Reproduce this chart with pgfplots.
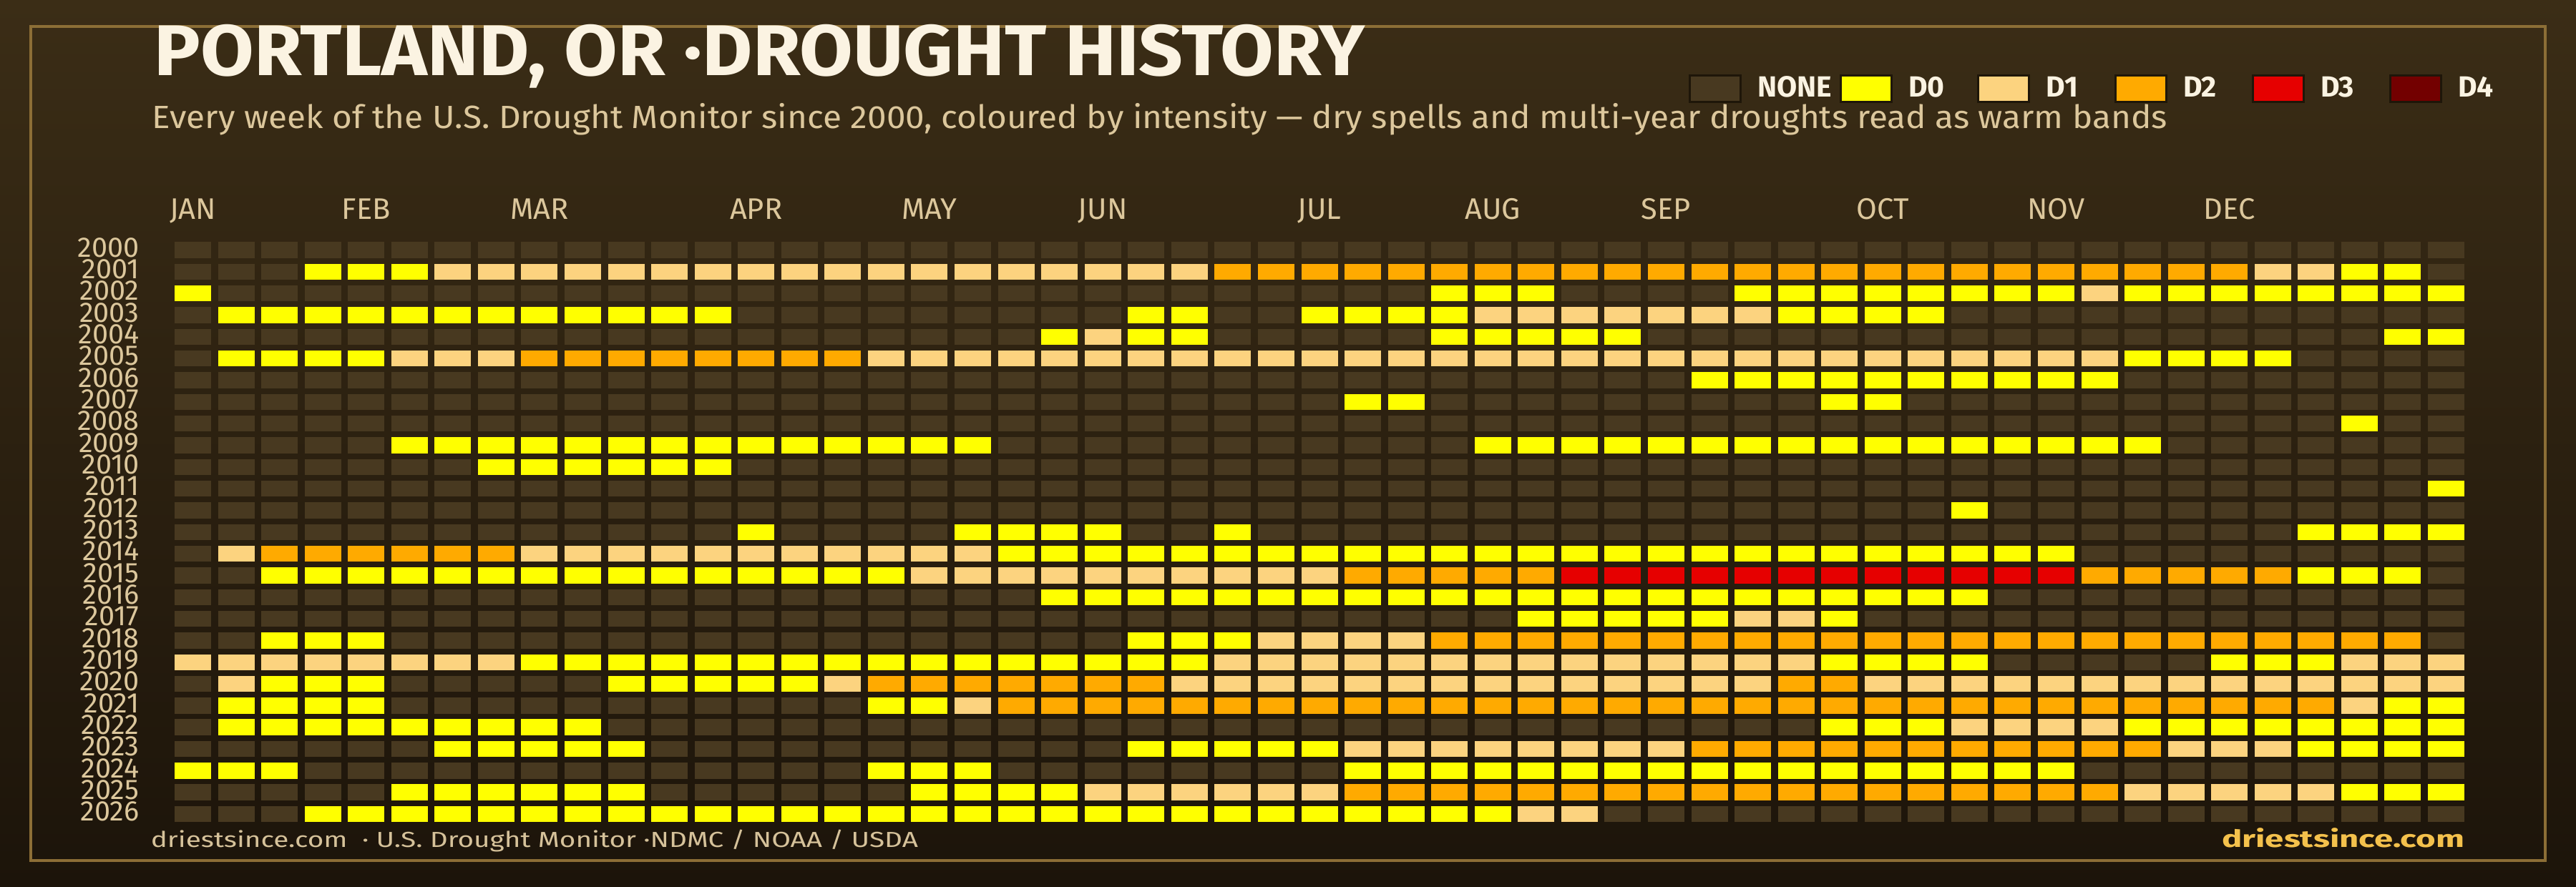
\documentclass[border=0pt]{standalone}
\usepackage{pgfplots}
\pgfplotsset{compat=1.18}
\usepackage{pgfplotstable}
\usepackage{graphicx}
\usepackage{fontspec}
\setmainfont{Fira Sans}
\definecolor{bgtop}{HTML}{3B2D16}
\definecolor{bgbot}{HTML}{1C140A}
\definecolor{framec}{HTML}{8C6E36}
\definecolor{cream}{HTML}{FBF3E2}
\definecolor{tanc}{HTML}{DCC79C}
\definecolor{footc}{HTML}{D6C29A}
\definecolor{gold}{HTML}{F4C14C}
\definecolor{legbd}{HTML}{1E1609}
\definecolor{cN}{HTML}{483920}
\definecolor{cD0}{HTML}{FFFF00}
\definecolor{cD1}{HTML}{FCD37F}
\definecolor{cD2}{HTML}{FFAA00}
\definecolor{cD3}{HTML}{E60000}
\definecolor{cD4}{HTML}{730000}

\pgfdeclareplotmark{cell}{\pgfpathrectangle{\pgfqpoint{-6.375pt}{-2.8125pt}}{\pgfqpoint{12.75pt}{5.625pt}}\pgfusepathqfill}

\pgfplotsset{
  cellplot/.style={forget plot, scatter, only marks, mark=cell, point meta=explicit symbolic,
    scatter/@pre marker code/.code={%
      \pgfscope
      \ifnum\pgfplotspointmeta<0 \pgfsetfillcolor{cN}%
      \else\ifcase\pgfplotspointmeta\relax \pgfsetfillcolor{cD0}\or\pgfsetfillcolor{cD1}\or\pgfsetfillcolor{cD2}\or\pgfsetfillcolor{cD3}\or\pgfsetfillcolor{cD4}\fi
      \fi},
    scatter/@post marker code/.code={\endpgfscope}},
  legsq/.style={legend image code/.code={\filldraw[draw=legbd, line width=0.75pt, fill=#1] (0.375pt,-1.875pt) rectangle (18.125pt,7.375pt);}},
}
\tikzset{month/.style={anchor=base, yshift=6.93pt, inner sep=0pt, text=tanc, font=\fontsize{10.4}{12}\selectfont}}

% drought level per week: -1 = none, 0..4 = D0..D4
\pgfplotstableread{
year w0 w1 w2 w3 w4 w5 w6 w7 w8 w9 w10 w11 w12 w13 w14 w15 w16 w17 w18 w19 w20 w21 w22 w23 w24 w25 w26 w27 w28 w29 w30 w31 w32 w33 w34 w35 w36 w37 w38 w39 w40 w41 w42 w43 w44 w45 w46 w47 w48 w49 w50 w51 w52
2000 -1 -1 -1 -1 -1 -1 -1 -1 -1 -1  -1 -1 -1 -1 -1 -1 -1 -1 -1 -1  -1 -1 -1 -1 -1 -1 -1 -1 -1 -1  -1 -1 -1 -1 -1 -1 -1 -1 -1 -1  -1 -1 -1 -1 -1 -1 -1 -1 -1 -1  -1 -1 -1
2001 -1 -1 -1 0 0 0 1 1 1 1  1 1 1 1 1 1 1 1 1 1  1 1 1 1 2 2 2 2 2 2  2 2 2 2 2 2 2 2 2 2  2 2 2 2 2 2 2 2 1 1  0 0 -1
2002 0 -1 -1 -1 -1 -1 -1 -1 -1 -1  -1 -1 -1 -1 -1 -1 -1 -1 -1 -1  -1 -1 -1 -1 -1 -1 -1 -1 -1 0  0 0 -1 -1 -1 -1 0 0 0 0  0 0 0 0 1 0 0 0 0 0  0 0 0
2003 -1 0 0 0 0 0 0 0 0 0  0 0 0 -1 -1 -1 -1 -1 -1 -1  -1 -1 0 0 -1 -1 0 0 0 0  1 1 1 1 1 1 1 0 0 0  0 -1 -1 -1 -1 -1 -1 -1 -1 -1  -1 -1 -1
2004 -1 -1 -1 -1 -1 -1 -1 -1 -1 -1  -1 -1 -1 -1 -1 -1 -1 -1 -1 -1  0 1 0 0 -1 -1 -1 -1 -1 0  0 0 0 0 -1 -1 -1 -1 -1 -1  -1 -1 -1 -1 -1 -1 -1 -1 -1 -1  -1 0 0
2005 -1 0 0 0 0 1 1 1 2 2  2 2 2 2 2 2 1 1 1 1  1 1 1 1 1 1 1 1 1 1  1 1 1 1 1 1 1 1 1 1  1 1 1 1 1 0 0 0 0 -1  -1 -1 -1
2006 -1 -1 -1 -1 -1 -1 -1 -1 -1 -1  -1 -1 -1 -1 -1 -1 -1 -1 -1 -1  -1 -1 -1 -1 -1 -1 -1 -1 -1 -1  -1 -1 -1 -1 -1 0 0 0 0 0  0 0 0 0 0 -1 -1 -1 -1 -1  -1 -1 -1
2007 -1 -1 -1 -1 -1 -1 -1 -1 -1 -1  -1 -1 -1 -1 -1 -1 -1 -1 -1 -1  -1 -1 -1 -1 -1 -1 -1 0 0 -1  -1 -1 -1 -1 -1 -1 -1 -1 0 0  -1 -1 -1 -1 -1 -1 -1 -1 -1 -1  -1 -1 -1
2008 -1 -1 -1 -1 -1 -1 -1 -1 -1 -1  -1 -1 -1 -1 -1 -1 -1 -1 -1 -1  -1 -1 -1 -1 -1 -1 -1 -1 -1 -1  -1 -1 -1 -1 -1 -1 -1 -1 -1 -1  -1 -1 -1 -1 -1 -1 -1 -1 -1 -1  0 -1 -1
2009 -1 -1 -1 -1 -1 0 0 0 0 0  0 0 0 0 0 0 0 0 0 -1  -1 -1 -1 -1 -1 -1 -1 -1 -1 -1  0 0 0 0 0 0 0 0 0 0  0 0 0 0 0 0 -1 -1 -1 -1  -1 -1 -1
2010 -1 -1 -1 -1 -1 -1 -1 0 0 0  0 0 0 -1 -1 -1 -1 -1 -1 -1  -1 -1 -1 -1 -1 -1 -1 -1 -1 -1  -1 -1 -1 -1 -1 -1 -1 -1 -1 -1  -1 -1 -1 -1 -1 -1 -1 -1 -1 -1  -1 -1 -1
2011 -1 -1 -1 -1 -1 -1 -1 -1 -1 -1  -1 -1 -1 -1 -1 -1 -1 -1 -1 -1  -1 -1 -1 -1 -1 -1 -1 -1 -1 -1  -1 -1 -1 -1 -1 -1 -1 -1 -1 -1  -1 -1 -1 -1 -1 -1 -1 -1 -1 -1  -1 -1 0
2012 -1 -1 -1 -1 -1 -1 -1 -1 -1 -1  -1 -1 -1 -1 -1 -1 -1 -1 -1 -1  -1 -1 -1 -1 -1 -1 -1 -1 -1 -1  -1 -1 -1 -1 -1 -1 -1 -1 -1 -1  -1 0 -1 -1 -1 -1 -1 -1 -1 -1  -1 -1 -1
2013 -1 -1 -1 -1 -1 -1 -1 -1 -1 -1  -1 -1 -1 0 -1 -1 -1 -1 0 0  0 0 -1 -1 0 -1 -1 -1 -1 -1  -1 -1 -1 -1 -1 -1 -1 -1 -1 -1  -1 -1 -1 -1 -1 -1 -1 -1 -1 0  0 0 0
2014 -1 1 2 2 2 2 2 2 1 1  1 1 1 1 1 1 1 1 1 0  0 0 0 0 0 0 0 0 0 0  0 0 0 0 0 0 0 0 0 0  0 0 0 0 -1 -1 -1 -1 -1 -1  -1 -1 -1
2015 -1 -1 0 0 0 0 0 0 0 0  0 0 0 0 0 0 0 1 1 1  1 1 1 1 1 1 1 2 2 2  2 2 3 3 3 3 3 3 3 3  3 3 3 3 2 2 2 2 2 0  0 0 -1
2016 -1 -1 -1 -1 -1 -1 -1 -1 -1 -1  -1 -1 -1 -1 -1 -1 -1 -1 -1 -1  0 0 0 0 0 0 0 0 0 0  0 0 0 0 0 0 0 0 0 0  0 0 -1 -1 -1 -1 -1 -1 -1 -1  -1 -1 -1
2017 -1 -1 -1 -1 -1 -1 -1 -1 -1 -1  -1 -1 -1 -1 -1 -1 -1 -1 -1 -1  -1 -1 -1 -1 -1 -1 -1 -1 -1 -1  -1 0 0 0 0 0 1 1 0 -1  -1 -1 -1 -1 -1 -1 -1 -1 -1 -1  -1 -1 -1
2018 -1 -1 0 0 0 -1 -1 -1 -1 -1  -1 -1 -1 -1 -1 -1 -1 -1 -1 -1  -1 -1 0 0 0 1 1 1 1 2  2 2 2 2 2 2 2 2 2 2  2 2 2 2 2 2 2 2 2 2  2 2 -1
2019 1 1 1 1 1 1 1 1 0 0  0 0 0 0 0 0 0 0 0 0  0 0 0 0 1 1 1 1 1 1  1 1 1 1 1 1 1 1 0 0  0 0 -1 -1 -1 -1 -1 0 0 0  1 1 1
2020 -1 1 0 0 0 -1 -1 -1 -1 -1  0 0 0 0 0 1 2 2 2 2  2 2 2 1 1 1 1 1 1 1  1 1 1 1 1 1 1 2 2 1  1 1 1 1 1 1 1 1 1 1  1 1 1
2021 -1 0 0 0 0 -1 -1 -1 -1 -1  -1 -1 -1 -1 -1 -1 0 0 1 2  2 2 2 2 2 2 2 2 2 2  2 2 2 2 2 2 2 2 2 2  2 2 2 2 2 2 2 2 2 2  1 0 0
2022 -1 0 0 0 0 0 0 0 0 0  -1 -1 -1 -1 -1 -1 -1 -1 -1 -1  -1 -1 -1 -1 -1 -1 -1 -1 -1 -1  -1 -1 -1 -1 -1 -1 -1 -1 0 0  0 1 1 1 1 0 0 0 0 0  0 0 0
2023 -1 -1 -1 -1 -1 -1 0 0 0 0  0 -1 -1 -1 -1 -1 -1 -1 -1 -1  -1 -1 0 0 0 0 0 1 1 1  1 1 1 1 1 2 2 2 2 2  2 2 2 2 2 2 1 1 1 0  0 0 0
2024 0 0 0 -1 -1 -1 -1 -1 -1 -1  -1 -1 -1 -1 -1 -1 0 0 0 -1  -1 -1 -1 -1 -1 -1 -1 0 0 0  0 0 0 0 0 0 0 0 0 0  0 0 0 0 -1 -1 -1 -1 -1 -1  -1 -1 -1
2025 -1 -1 -1 -1 -1 0 0 0 0 0  0 -1 -1 -1 -1 -1 -1 0 0 0  0 1 1 1 1 1 1 2 2 2  2 2 2 2 2 2 2 2 2 2  2 2 2 2 2 1 1 1 1 1  0 0 0
2026 -1 -1 -1 0 0 0 0 0 0 0  0 0 0 0 0 0 0 0 0 0  0 0 0 0 0 0 0 0 0 0  0 1 1 -1 -1 -1 -1 -1 -1 -1  -1 -1 -1 -1 -1 -1 -1 -1 -1 -1  -1 -1 -1
}\drought

\begin{document}
\begin{tikzpicture}[x=1pt,y=1pt]
\path[use as bounding box] (0,0) rectangle (900,-310);
\shade[top color=bgtop, bottom color=bgbot] (0,0) rectangle (900,-310);
\draw[framec, line width=0.875pt] (10.7,-9.25) rectangle (889.3,-300.75);
\begin{axis}[
  scale only axis, width=802.4pt, height=204.7pt,
  at={(59.8pt,-83.6pt)}, anchor=north west,
  xmin=-0.5, xmax=52.5, ymin=1999.5, ymax=2026.5, y dir=reverse,
  axis line style={draw=none}, major tick length=0pt, xtick=\empty,
  ytick={2000,2001,2002,2003,2004,2005,2006,2007,2008,2009,2010,2011,2012,2013,2014,2015,2016,2017,2018,2019,2020,2021,2022,2023,2024,2025,2026},
  yticklabels={2000,2001,2002,2003,2004,2005,2006,2007,2008,2009,2010,2011,2012,2013,2014,2015,2016,2017,2018,2019,2020,2021,2022,2023,2024,2025,2026},
  yticklabel style={font=\fontsize{9.9}{11}\selectfont, text=tanc, anchor=base east, inner sep=0pt, outer sep=0pt, xshift=-11.2pt, yshift=-2.44pt},
  clip=false,
  legend columns=6,
  legend style={at={(axis description cs:0.66076,1.25696)}, anchor=west, draw=none, fill=none, inner sep=0pt, outer sep=0pt,
    font=\fontsize{10.2}{12}\selectfont\bfseries, text=cream, cells={anchor=base west},
    nodes={inner sep=0pt, outer sep=0pt},
    /tikz/every odd column/.append style={column sep=5.5pt}},
]
\addlegendimage{legsq=cN}\addlegendentry{\makebox[28.75pt][l]{NONE}}
\addlegendimage{legsq=cD0}\addlegendentry{\makebox[24pt][l]{D0}}
\addlegendimage{legsq=cD1}\addlegendentry{\makebox[24pt][l]{D1}}
\addlegendimage{legsq=cD2}\addlegendentry{\makebox[24pt][l]{D2}}
\addlegendimage{legsq=cD3}\addlegendentry{\makebox[24pt][l]{D3}}
\addlegendimage{legsq=cD4}\addlegendentry{\makebox[24pt][l]{D4}}
\pgfplotsinvokeforeach{0,...,52}{
  \addplot[cellplot] table[x expr=#1, y=year, meta=w#1] {\drought};
}
\node[month] at (axis cs:0,1999.5) {JAN};
\node[month] at (axis cs:4,1999.5) {FEB};
\node[month] at (axis cs:8,1999.5) {MAR};
\node[month] at (axis cs:13,1999.5) {APR};
\node[month] at (axis cs:17,1999.5) {MAY};
\node[month] at (axis cs:21,1999.5) {JUN};
\node[month] at (axis cs:26,1999.5) {JUL};
\node[month] at (axis cs:30,1999.5) {AUG};
\node[month] at (axis cs:34,1999.5) {SEP};
\node[month] at (axis cs:39,1999.5) {OCT};
\node[month] at (axis cs:43,1999.5) {NOV};
\node[month] at (axis cs:47,1999.5) {DEC};
\end{axis}
\node[anchor=base west, inner sep=0pt, text=cream, font=\fontsize{25.1}{30}\selectfont\bfseries] at (53.75,-26.5) {\resizebox{423pt}{\height}{PORTLAND, OR ·DROUGHT HISTORY}};
\node[anchor=base west, inner sep=0pt, text=tanc, font=\fontsize{11.25}{13}\selectfont] at (53,-44.9) {\resizebox{704pt}{\height}{Every week of the U.S. Drought Monitor since 2000, coloured by intensity — dry spells and multi-year droughts read as warm bands}};
\node[anchor=base west, inner sep=0pt, text=footc, font=\fontsize{7.6}{9}\selectfont] at (52.5,-296) {\resizebox{268pt}{\height}{driestsince.com\ \ · U.S. Drought Monitor ·NDMC / NOAA / USDA}};
\node[anchor=base east, inner sep=0pt, text=gold, font=\fontsize{8.3}{10}\selectfont\bfseries] at (861.25,-296) {\resizebox{84.75pt}{\height}{driestsince.com}};
\end{tikzpicture}
\end{document}
